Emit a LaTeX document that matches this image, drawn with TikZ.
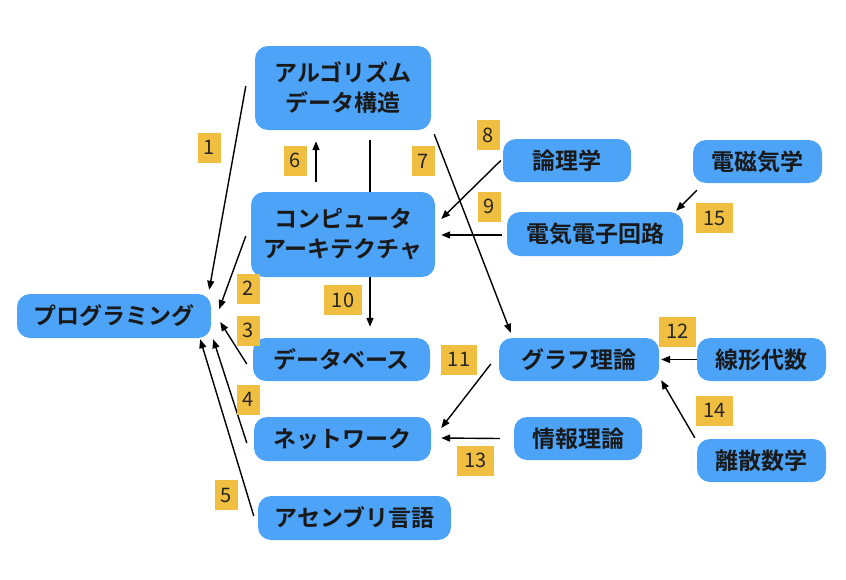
\documentclass[tikz,border=0pt]{standalone}
\usepackage{fontspec}
\setmainfont{Noto Sans CJK JP}[BoldFont={Noto Sans CJK JP Bold}]
\usetikzlibrary{calc,arrows.meta}
\definecolor{nodeblue}{HTML}{4DA3F7}
\definecolor{tagyellow}{HTML}{F0BE40}
\tikzset{
  box/.style={fill=nodeblue, draw=none, rounded corners=13pt, inner sep=0pt,
    font=\fontsize{23}{30}\selectfont\bfseries, text=black!90, align=center},
  tag/.style={fill=tagyellow, draw=none, inner sep=0pt, minimum height=30pt,
    font=\fontsize{20}{22}\selectfont, text=black!85},
  arr/.style={draw=black, line width=1.4pt, -{Triangle[length=9pt,width=7pt]}}
}
\begin{document}
\begin{tikzpicture}[x=1pt,y=-1pt]
\useasboundingbox (0,0) rectangle (846,579);
\node[box, minimum width=176pt, minimum height=84pt] (algo) at (343,88) {アルゴリズム\\データ構造};
\node[box, minimum width=194pt, minimum height=44pt] (prog) at (114,316) {プログラミング};
\node[box, minimum width=177pt, minimum height=43pt] (db) at (341.5,359.5) {データベース};
\node[box, minimum width=177pt, minimum height=44pt] (net) at (342.5,439) {ネットワーク};
\node[box, minimum width=193pt, minimum height=44pt] (asm) at (354.5,518) {アセンブリ言語};
\node[box, minimum width=128pt, minimum height=43pt] (logic) at (567,160.5) {論理学};
\node[box, minimum width=176pt, minimum height=44pt] (circ) at (595,234) {電気電子回路};
\node[box, minimum width=129pt, minimum height=43pt] (em) at (757.5,161.5) {電磁気学};
\node[box, minimum width=160pt, minimum height=43pt] (graph) at (579,359.5) {グラフ理論};
\node[box, minimum width=129pt, minimum height=43pt] (lin) at (761.5,359.5) {線形代数};
\node[box, minimum width=128pt, minimum height=43pt] (info) at (578,438.5) {情報理論};
\node[box, minimum width=129pt, minimum height=43pt] (disc) at (761.5,460.5) {離散数学};

% edge 10 passes behind the architecture node
\draw[arr] ($(algo.south)+(27,10)$) -- ($(db.north)+(28.5,-11)$);
\node[box, minimum width=184pt, minimum height=85pt] (ca) at (343,234.5) {コンピュータ\\アーキテクチャ};

\draw[arr] ($(algo.west)+(-9,-2)$) -- ($(prog.north east)+(-2,-4)$);
\draw[arr] ($(ca.west)+(-5,1.5)$) -- ($(prog.east)+(8,-7)$);
\draw[arr] ($(db.west)+(-6,4.5)$) -- ($(prog.east)+(9,6)$);
\draw[arr] ($(net.west)+(-7,4)$) -- ($(prog.south east)+(2,1)$);
\draw[arr] ($(asm.west)+(-4,-2)$) -- ($(prog.south east)+(-11,1)$);
\draw[arr] ($(ca.north)+(-27,-10)$) -- ($(algo.south)+(-27,11)$);
\draw[arr] ($(algo.south east)+(3,4)$) -- ($(graph.north west)+(12,-5)$);
\draw[arr] ($(logic.west)+(-2,0)$) -- ($(ca.east)+(6,-15.5)$);
\draw[arr] ($(circ.west)+(-5,1)$) -- ($(ca.east)+(6,0.5)$);
\draw[arr] ($(em.south west)+(4,7)$) -- ($(circ.north east)+(-7,-1)$);
\draw[arr] ($(graph.west)+(-8,4.5)$) -- ($(net.east)+(10,-11)$);
\draw[arr] ($(info.west)+(-14,0)$) -- ($(net.east)+(10,-1)$);
\draw[arr] (lin.west) -- ($(graph.east)+(2,0)$);
\draw[arr] ($(disc.north west)+(-2,-1)$) -- ($(graph.south east)+(2,-1)$);

% tags
\node[tag, minimum width=23pt] (t1) at (209.5,147.5) {1};
\node[tag, minimum width=23pt] (t6) at (295,160.5) {6};
\node[tag, minimum width=23pt] (t7) at (423.5,161) {7};
\node[tag, minimum width=23pt] (t8) at (488.5,135) {8};
\node[tag, minimum width=23pt] (t9) at (489.5,206.5) {9};
\node[tag, minimum width=37pt] (t15) at (714.5,218) {15};
\node[tag, minimum width=23pt] (t2) at (248.5,288.5) {2};
\node[tag, minimum width=38pt] (t10) at (343,300) {10};
\node[tag, minimum width=23pt] (t3) at (248.5,330.5) {3};
\node[tag, minimum width=36pt] (t11) at (459,359.5) {11};
\node[tag, minimum width=37pt] (t12) at (677.5,331.5) {12};
\node[tag, minimum width=23pt] (t4) at (248.5,399.5) {4};
\node[tag, minimum width=37pt] (t14) at (714.5,410.5) {14};
\node[tag, minimum width=37pt] (t13) at (475.5,460.5) {13};
\node[tag, minimum width=23pt] (t5) at (226.5,495) {5};
\end{tikzpicture}
\end{document}
